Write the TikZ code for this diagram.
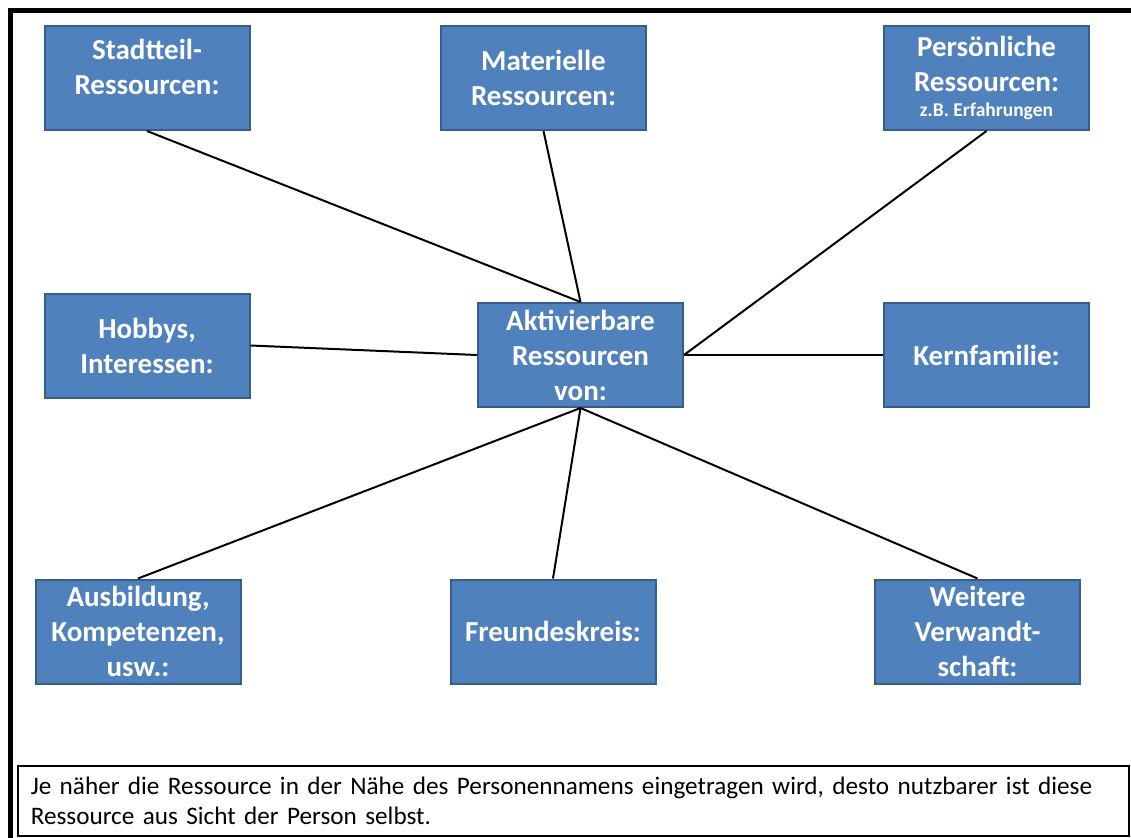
\documentclass[tikz,border=0pt]{standalone}
\usepackage{fontspec}
\setmainfont{Carlito}
\definecolor{boxfill}{HTML}{4F81BD}
\definecolor{boxline}{HTML}{385D8A}
\begin{document}
\begin{tikzpicture}[x=1pt,y=-1pt,
  resbox/.style={draw=boxline, fill=boxfill, line width=2, minimum width=205, minimum height=104,
    inner sep=0, text=white, align=center, font=\fontsize{29}{35}\selectfont\bfseries},
  conn/.style={draw=black, line width=2}]
\useasboundingbox (0,0) rectangle (1131,837);
\clip (0,0) rectangle (1131,837);
\draw[line width=5] (10.5,850) -- (10.5,10.5) -- (1150,10.5);

\node[resbox] (stadt) at (147,78) {Stadtteil-\\Ressourcen:\\[-13pt]\mbox{}};
\node[resbox] (mat) at (543.5,78) {Materielle\\Ressourcen:};
\node[resbox] (pers) at (986.5,78) {Persönliche\\Ressourcen:\\[-10pt]{\fontsize{19.5}{24}\selectfont z.B. Erfahrungen}};
\node[resbox] (hobby) at (147,345.5) {Hobbys,\\Interessen:};
\node[resbox] (akt) at (580.5,355) {Aktivierbare\\Ressourcen\\von:};
\node[resbox] (kern) at (986.5,355) {Kernfamilie:};
\node[resbox] (ausb) at (138,631.5) {Ausbildung,\\Kompetenzen,\\usw.:};
\node[resbox] (freund) at (553,631.5) {Freundeskreis:};
\node[resbox] (weit) at (977.5,631.5) {Weitere\\Verwandt-\\schaft:};

\draw[conn] (stadt.south) -- (akt.north);
\draw[conn] (mat.south) -- (akt.north);
\draw[conn] (pers.south) -- (akt.east);
\draw[conn] (hobby.east) -- (akt.west);
\draw[conn] (kern.west) -- (akt.east);
\draw[conn] (ausb.north) -- (akt.south);
\draw[conn] (freund.north) -- (akt.south);
\draw[conn] (weit.north) -- (akt.south);

\node[draw, line width=1.5, anchor=north west, minimum width=1105, minimum height=70,
  text width=1085, inner xsep=13, inner ysep=0, align=left,
  font=\fontsize{25.2}{30}\selectfont] (note) at (17,765)
  {Je näher die Ressource in der Nähe des Personennamens eingetragen wird, desto nutzbarer ist diese\\Ressource aus Sicht der Person selbst.};
\end{tikzpicture}
\end{document}
